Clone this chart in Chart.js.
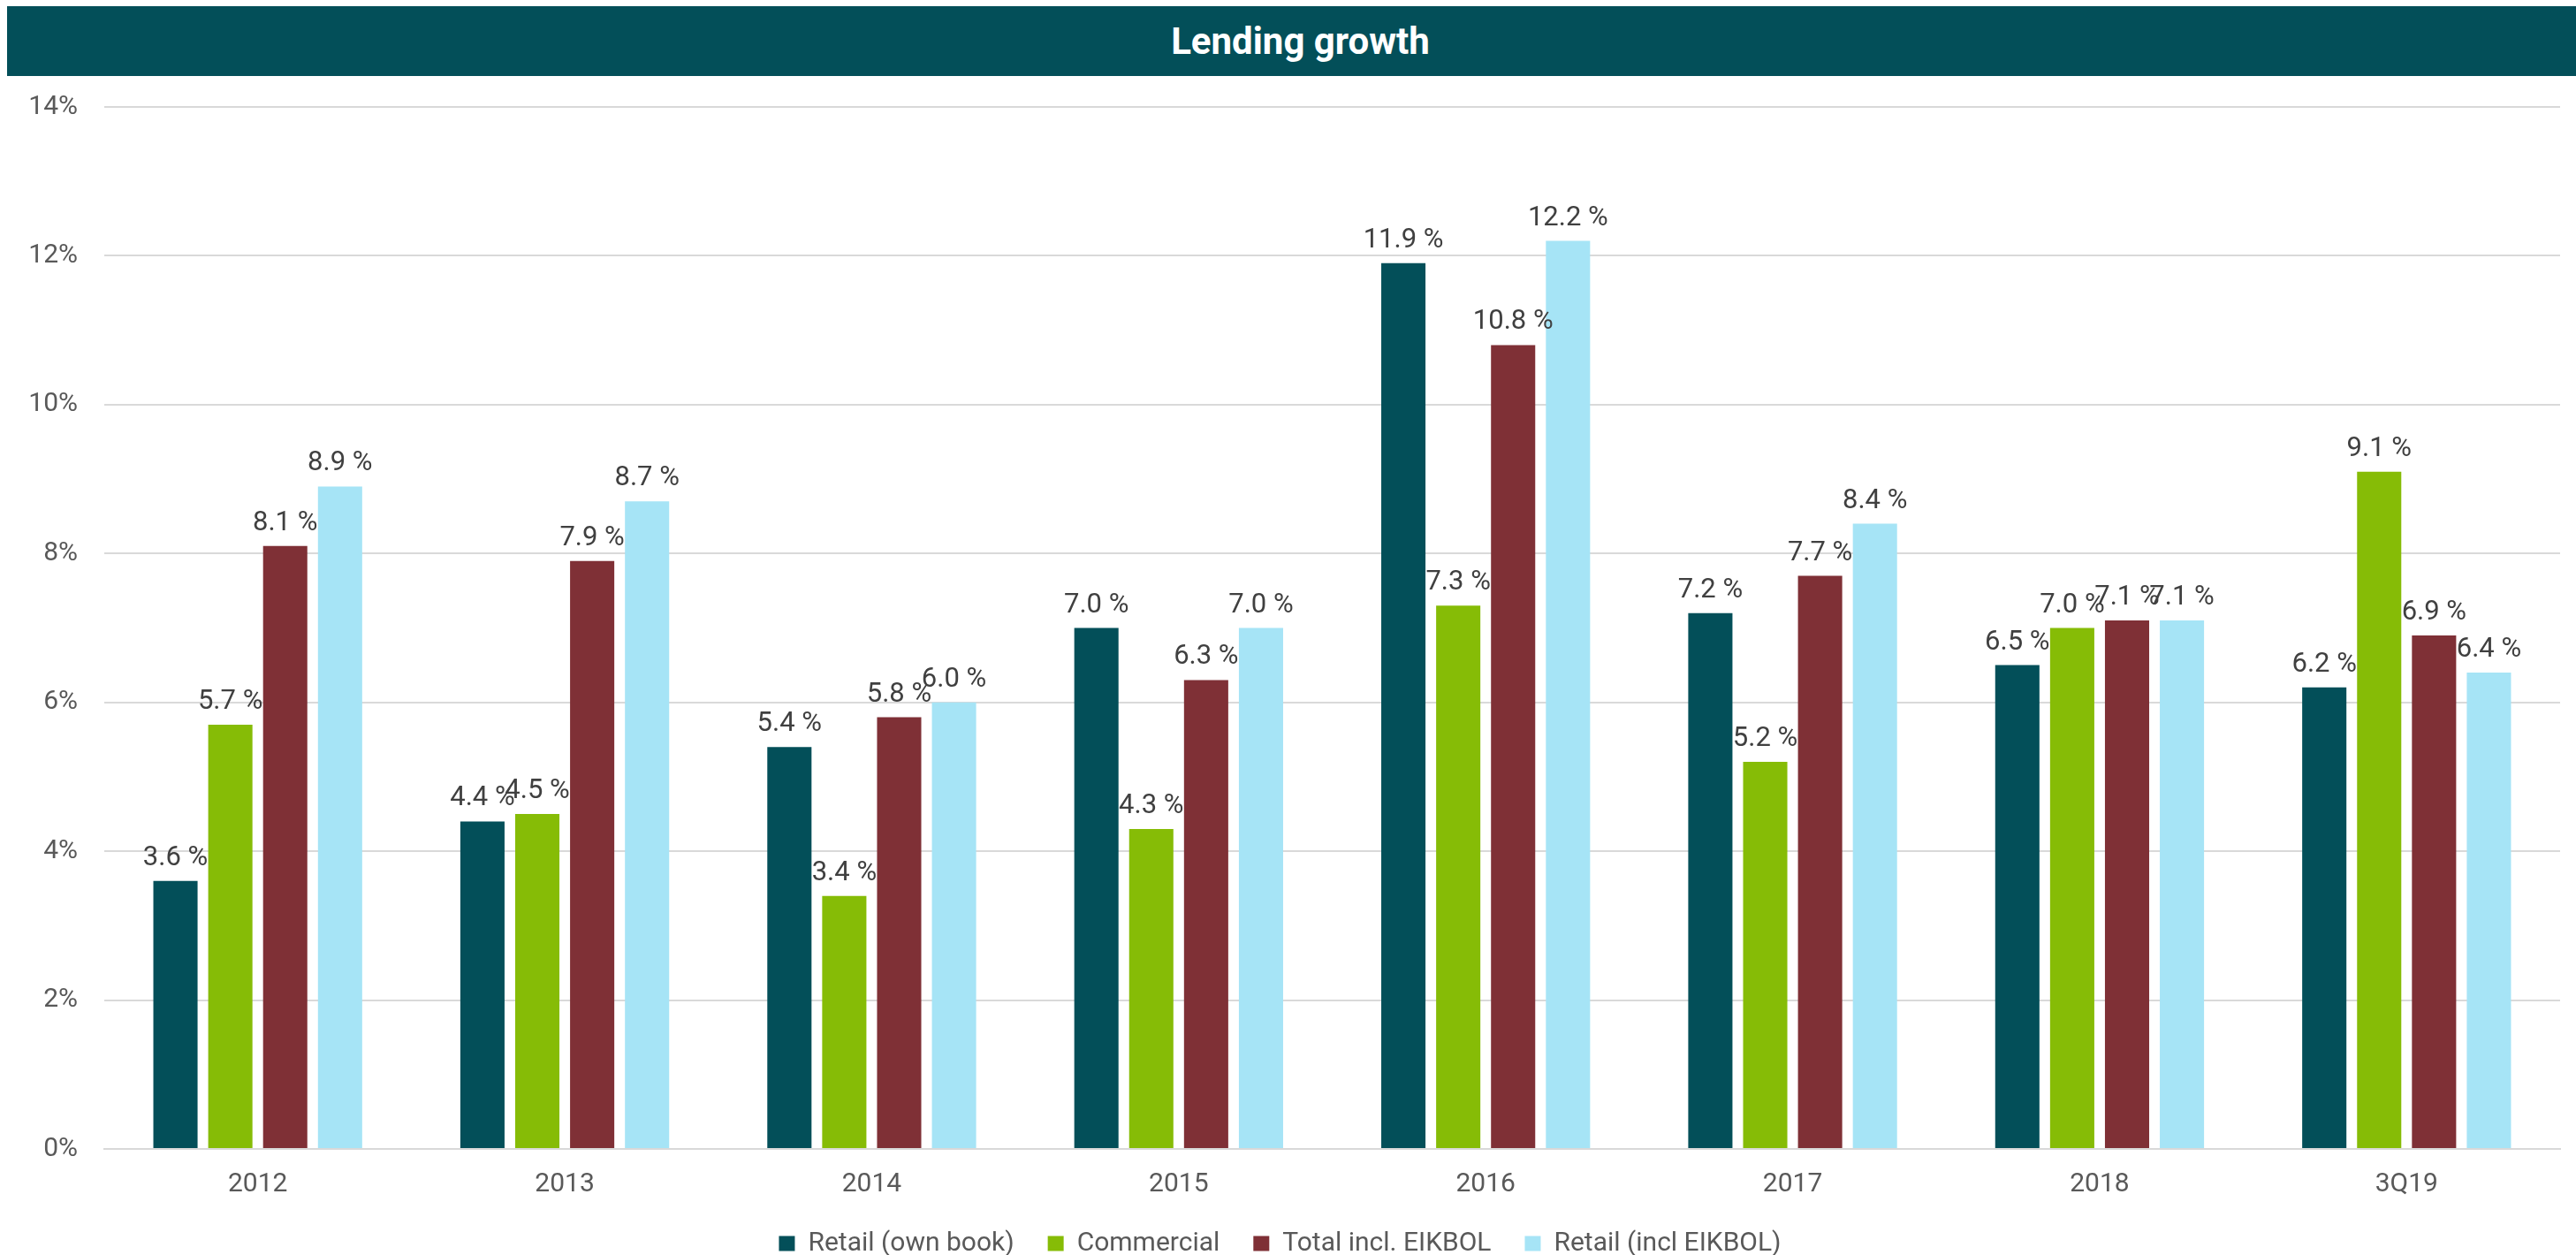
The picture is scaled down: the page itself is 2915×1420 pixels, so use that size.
<!DOCTYPE html>
<html>
<head>
<meta charset="utf-8">
<title>Lending growth</title>
<script src="https://cdn.jsdelivr.net/npm/chart.js@4"></script>
<style>
  html, body { margin: 0; padding: 0; background: #fff; }
  #wrap { position: relative; width: 2915px; height: 1420px; }
  #title {
    position: absolute; left: 8px; top: 7px; width: 2907px; height: 79px;
    background: #034f59; color: #fff;
    font: bold 42px Roboto, sans-serif;
    display: flex; align-items: center; justify-content: center;
    padding-left: 20px; box-sizing: border-box;
  }
  canvas { position: absolute; left: 0; top: 0; }
</style>
</head>
<body>
<div id="wrap">
  <canvas id="chart" width="2915" height="1420"></canvas>
  <div id="title">Lending growth</div>
</div>
<script>
// data
const categories = ["2012", "2013", "2014", "2015", "2016", "2017", "2018", "3Q19"];
const retailOwnBook = [3.6, 4.4, 5.4, 7.0, 11.9, 7.2, 6.5, 6.2];
const commercial = [5.7, 4.5, 3.4, 4.3, 7.3, 5.2, 7.0, 9.1];
const totalInclEikbol = [8.1, 7.9, 5.8, 6.3, 10.8, 7.7, 7.1, 6.9];
const retailInclEikbol = [8.9, 8.7, 6.0, 7.0, 12.2, 8.4, 7.1, 6.4];
const yTicks = [0, 2, 4, 6, 8, 10, 12, 14];

const FONT = "Roboto, sans-serif";

// value labels above each bar
const barLabels = {
  id: "barLabels",
  afterDatasetsDraw(chart) {
    const ctx = chart.ctx;
    ctx.save();
    ctx.font = "31px " + FONT;
    ctx.fillStyle = "#404040";
    ctx.textAlign = "center";
    ctx.textBaseline = "alphabetic";
    chart.data.datasets.forEach((ds, i) => {
      const meta = chart.getDatasetMeta(i);
      meta.data.forEach((bar, j) => {
        ctx.fillText(ds.data[j].toFixed(1) + " %", bar.x, bar.y - 18);
      });
    });
    ctx.restore();
  },
};

const ctx = document.getElementById("chart").getContext("2d");
new Chart(ctx, {
  type: "bar",
  data: {
    labels: categories,
    datasets: [
      { label: "Retail (own book)", data: retailOwnBook, backgroundColor: "#034f59" },
      { label: "Commercial", data: commercial, backgroundColor: "#86bc06" },
      { label: "Total incl. EIKBOL", data: totalInclEikbol, backgroundColor: "#7f3036" },
      { label: "Retail (incl EIKBOL)", data: retailInclEikbol, backgroundColor: "#a6e4f6" },
    ],
  },
  options: {
    responsive: false,
    animation: false,
    datasets: {
      bar: { categoryPercentage: 0.715, barPercentage: 0.806 },
    },
    layout: {
      padding: { top: 121, left: 0, right: 18, bottom: -12 },
    },
    plugins: {
      title: { display: false },
      tooltip: { enabled: false },
      legend: {
        display: true,
        position: "bottom",
        labels: {
          boxWidth: 18,
          boxHeight: 17,
          padding: 38,
          color: "#595959",
          font: { family: FONT, size: 30 },
        },
      },
    },
    scales: {
      x: {
        grid: { display: false, drawTicks: false },
        border: { display: true, color: "#d9d9d9", width: 2 },
        ticks: {
          color: "#595959",
          padding: 25,
          font: { family: FONT, size: 30, lineHeight: 1 },
        },
        afterFit(scale) { scale.height = 54; },
      },
      y: {
        min: 0,
        max: 14,
        afterBuildTicks(scale) { scale.ticks = yTicks.map((v) => ({ value: v })); },
        grid: { color: "#d9d9d9", lineWidth: 2, drawTicks: false },
        border: { display: false },
        ticks: {
          color: "#595959",
          padding: 30,
          font: { family: FONT, size: 30 },
          callback: (v) => v + "%",
        },
        afterFit(scale) { scale.width = 118; },
      },
    },
  },
  plugins: [barLabels],
});
</script>
</body>
</html>
